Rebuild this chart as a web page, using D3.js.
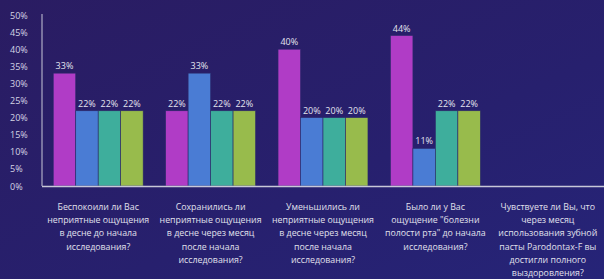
<!DOCTYPE html>
<html>
<head>
<meta charset="utf-8">
<script src="https://cdn.jsdelivr.net/npm/d3@7"></script>
<style>
  html, body { margin: 0; padding: 0; background: #27206e; }
  svg text { font-family: "Open Sans", "Noto Sans", sans-serif; }
</style>
</head>
<body>
<div id="chart"></div>
<script>
// categories (question text, split in lines as on the slide)
var categories = [
  ["Беспокоили ли Вас", "неприятные ощущения", "в десне до начала", "исследования?"],
  ["Сохранились ли", "неприятные ощущения", "в десне через месяц", "после начала", "исследования?"],
  ["Уменьшились ли", "неприятные ощущения", "в десне через месяц", "после начала", "исследования?"],
  ["Было ли у Вас", "ощущение \"болезни", "полости рта\" до начала", "исследования?"],
  ["Чувствуете ли Вы, что", "через месяц", "использования зубной", "пасты Parodontax-F вы", "достигли полного", "выздоровления?"]
];

// series values in percent (last question has no answers)
var series1 = [33, 22, 40, 44, null];
var series2 = [22, 33, 20, 11, null];
var series3 = [22, 22, 20, 22, null];
var series4 = [22, 22, 20, 22, null];

var yTicks = [0, 5, 10, 15, 20, 25, 30, 35, 40, 45, 50];

var colors = ["#b03cc6", "#4a7cd4", "#3eae9c", "#98bb4c"];

var width = 604, height = 279;
var margin = {left: 42, right: 0, top: 15, bottom: 93};

var svg = d3.select("#chart").append("svg")
  .attr("width", width)
  .attr("height", height);

// background
var defs = svg.append("defs");
var grad = defs.append("linearGradient").attr("id", "bg")
  .attr("x1", 0).attr("y1", 0).attr("x2", 1).attr("y2", 1);
grad.append("stop").attr("offset", "0%").attr("stop-color", "#2a1c62");
grad.append("stop").attr("offset", "60%").attr("stop-color", "#27206e");
grad.append("stop").attr("offset", "100%").attr("stop-color", "#262478");
svg.append("rect").attr("width", width).attr("height", height).attr("fill", "url(#bg)");

var x0 = d3.scaleBand()
  .domain(d3.range(categories.length))
  .range([margin.left, width - margin.right])
  .paddingInner(0.2)
  .paddingOuter(0.1);

var x1 = d3.scaleBand()
  .domain(d3.range(4))
  .range([0, x0.bandwidth()]);

var y = d3.scaleLinear()
  .domain([0, 50])
  .range([height - margin.bottom, margin.top]);

// y axis labels
svg.append("g").selectAll("text")
  .data(yTicks)
  .enter().append("text")
  .attr("x", 10)
  .attr("y", function(d) { return y(d) + 3.5; })
  .attr("fill", "#d4d4e4")
  .attr("font-size", "9px")
  .text(function(d) { return d + "%"; });

// bars
var allSeries = [series1, series2, series3, series4];
var rows = [];
allSeries.forEach(function(s, si) {
  s.forEach(function(v, ci) {
    if (v != null) rows.push({s: si, c: ci, v: v});
  });
});

svg.append("g").selectAll("rect")
  .data(rows)
  .enter().append("rect")
  .attr("x", function(d) { return x0(d.c) + x1(d.s); })
  .attr("y", function(d) { return y(d.v); })
  .attr("width", x1.bandwidth())
  .attr("height", function(d) { return y(0) - y(d.v); })
  .attr("fill", function(d) { return colors[d.s]; })
  .attr("stroke", "#2c2a6a")
  .attr("stroke-width", 0.6);

svg.append("g").selectAll("text")
  .data(rows)
  .enter().append("text")
  .attr("x", function(d) { return x0(d.c) + x1(d.s) + x1.bandwidth() / 2; })
  .attr("y", function(d) { return y(d.v) - 4; })
  .attr("text-anchor", "middle")
  .attr("fill", "#e4e4ee")
  .attr("font-size", "9px")
  .text(function(d) { return d.v + "%"; });

// axis lines
svg.append("line")
  .attr("x1", margin.left).attr("x2", margin.left)
  .attr("y1", y(50) - 1).attr("y2", y(0))
  .attr("stroke", "#c8c8d8").attr("stroke-width", 1);
svg.append("line")
  .attr("x1", margin.left).attr("x2", width)
  .attr("y1", y(0) + 0.5).attr("y2", y(0) + 0.5)
  .attr("stroke", "#c8c8d8").attr("stroke-width", 1.5);

// category labels
var cat = svg.append("g").selectAll("text")
  .data(categories)
  .enter().append("text")
  .attr("text-anchor", "middle")
  .attr("fill", "#e0e0ec")
  .attr("font-size", "8.8px");

cat.each(function(lines, i) {
  var t = d3.select(this);
  lines.forEach(function(l, j) {
    t.append("tspan")
      .attr("x", x0(i) + x0.bandwidth() / 2)
      .attr("y", 210 + j * 13.2)
      .text(l);
  });
});
</script>
</body>
</html>
